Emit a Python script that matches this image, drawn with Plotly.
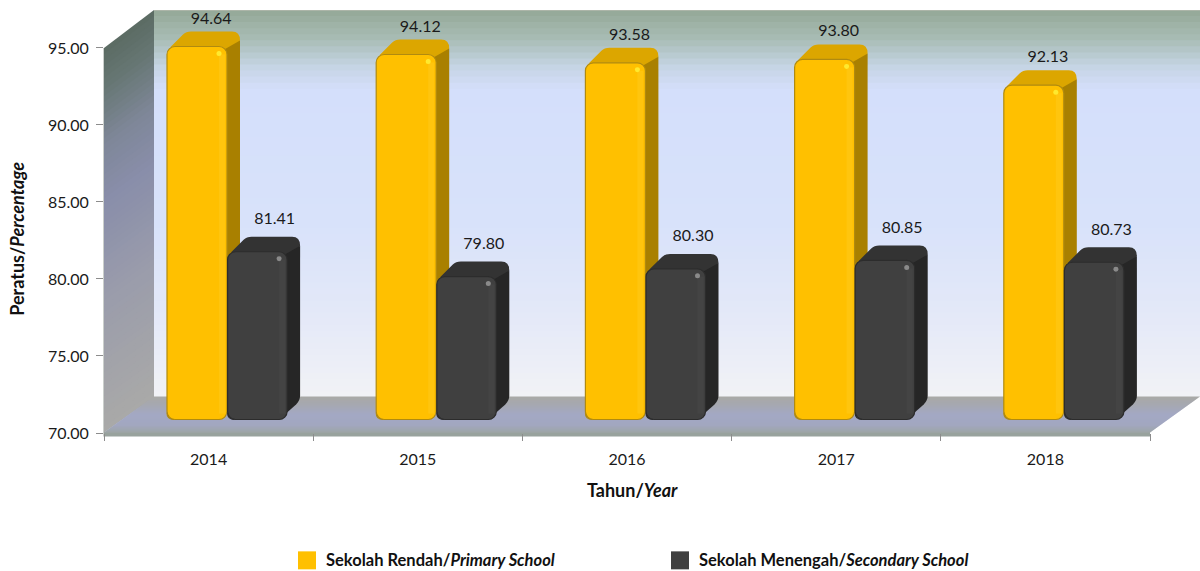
import plotly.graph_objects as go

years = ["2014", "2015", "2016", "2017", "2018"]
primary = [94.64, 94.12, 93.58, 93.80, 92.13]
secondary = [81.41, 79.80, 80.30, 80.85, 80.73]
y_ticks = [70, 75, 80, 85, 90, 95]
primary_name = "Sekolah Rendah/<i>Primary School</i>"
secondary_name = "Sekolah Menengah/<i>Secondary School</i>"

W, H = 1200, 571
L_PX, R_PX = 104, 1200
T_PX, B_PX = 10, 433.5
CAT_PX = 209.2
UNIT_PX = 15.42
FONT = "Lato, Carlito, sans-serif"

x_range = [-0.5, -0.5 + (R_PX - L_PX) / CAT_PX]
y_range = [70, 70 + (B_PX - T_PX) / UNIT_PX]

def dx(px):
    return -0.5 + (px - L_PX) / CAT_PX

def dy(py):
    return 70 + (B_PX - py) / UNIT_PX

def py_of(v):
    return B_PX - (v - 70) * UNIT_PX

def hex2(c):
    c = c.lstrip("#")
    return [int(c[i:i + 2], 16) for i in (0, 2, 4)]

def ramp(stops, t):
    for (a, ca), (b, cb) in zip(stops, stops[1:]):
        if t <= b:
            f = (t - a) / (b - a) if b > a else 0
            x, y = hex2(ca), hex2(cb)
            return "rgb(%d,%d,%d)" % tuple(round(x[i] + (y[i] - x[i]) * f) for i in range(3))
    return stops[-1][1]

def path(cmds):
    out = []
    for c in cmds:
        op, pts = c[0], c[1:]
        out.append(op + " ".join(f"{dx(p[0]):.5f},{dy(p[1]):.5f}" for p in pts))
    return " ".join(out)

shapes = []

def add_path(cmds, fill=None, line=None, lw=0, layer="below", close=True):
    d = path(cmds) + (" Z" if close else "")
    shapes.append(dict(type="path", xref="x", yref="y", path=d, layer=layer,
                       fillcolor=fill if fill else "rgba(0,0,0,0)",
                       line=dict(color=line if line else "rgba(0,0,0,0)", width=lw)))

def paper_rect(x0, y0, x1, y1, col, layer="below"):
    shapes.append(dict(type="rect", xref="paper", yref="paper", layer=layer,
                       x0=(x0 - L_PX) / (R_PX - L_PX), x1=(x1 - L_PX) / (R_PX - L_PX),
                       y0=(B_PX - y1) / (B_PX - T_PX), y1=(B_PX - y0) / (B_PX - T_PX),
                       fillcolor=col, line=dict(width=0)))

# back wall
WX0, WX1, WY0, WY1 = 154, 1200, 10, 398
wall_stops = [(0, "#96aa9a"), (0.07, "#a9bdb6"), (0.14, "#c5d4e4"), (0.2, "#d4dffb"),
              (0.55, "#d8e2fa"), (0.8, "#e4e9f8"), (1, "#f1f2f6")]
N = 64
for i in range(N):
    a = WY0 + (WY1 - WY0) * i / N
    b = WY0 + (WY1 - WY0) * (i + 1.5) / N
    b = min(b, WY1)
    add_path([("M", (WX0, a)), ("L", (WX1, a)), ("L", (WX1, b)), ("L", (WX0, b))],
             fill=ramp(wall_stops, i / (N - 1)))
add_path([("M", (WX0, 10)), ("L", (WX1, 10))], line="#b3b8ac", lw=1.5, close=False)

# left wall
left_stops = [(0, "#5c6c64"), (0.1, "#677774"), (0.25, "#7f8799"), (0.4, "#898eaa"),
              (0.65, "#9a9cab"), (1, "#a9a9a8")]
for i in range(N):
    s, e = i / N, min((i + 1.5) / N, 1)
    add_path([("M", (104, 48 + 385 * s)), ("L", (154, 10 + 388 * s)),
              ("L", (154, 10 + 388 * e)), ("L", (104, 48 + 385 * e))],
             fill=ramp(left_stops, i / (N - 1)))

# floor
floor_stops = [(0, "#a9a9a7"), (0.2, "#a6a8af"), (0.5, "#a3a8c4"), (0.8, "#a2a7c0"), (1, "#9da5a8")]
FN = 36
FLOOR_T, FLOOR_B = 397, 433
for i in range(FN):
    s, e = i / FN, min((i + 1.8) / FN, 1)
    ya, yb = FLOOR_T + (FLOOR_B - FLOOR_T) * s, FLOOR_T + (FLOOR_B - FLOOR_T) * e
    add_path([("M", (154 - 50 * s, ya)), ("L", (1200 - 50 * s, ya)),
              ("L", (1200 - 50 * e, yb)), ("L", (154 - 50 * e, yb))],
             fill=ramp(floor_stops, i / (FN - 1)))
paper_rect(104, 432.5, 1150, 437, "#98a29d")
paper_rect(103.5, 48, 104.7, 437, "#98a09a")

# bar geometry in pixels relative to each category
PRIM_OFF = (-41.6, 18.4)
SEC_OFF = (19.0, 78.5)
BASE_PX = 420
LIFT_PRIM = 7.0
LIFT_SEC = 5.5

def depth(center, off, v, lift, top_col, side_col):
    Lx, Rx = center + off[0], center + off[1]
    T = py_of(v) - lift
    add_path([("M", (Lx + 3, T + 1)), ("L", (Lx + 16, T - 12)), ("Q", (Lx + 19, T - 15), (Lx + 24, T - 15)),
              ("L", (Rx + 5, T - 15)),
              ("Q", (Rx + 13, T - 15), (Rx + 13, T - 6)), ("L", (Rx, T + 9)), ("L", (Rx - 6, T + 1))],
             fill=top_col)
    add_path([("M", (Rx + 13, T - 6)), ("L", (Rx + 13, BASE_PX - 24)),
              ("Q", (Rx + 13, BASE_PX - 19), (Rx + 9, BASE_PX - 15)),
              ("L", (Rx - 8, BASE_PX)), ("L", (Rx - 8, T + 6))], fill=side_col)

def finish(center, off, v, lift, dot, rim, bevel):
    Lx, Rx = center + off[0], center + off[1]
    T = py_of(v) - lift
    # soft bevel along the right part of the face and the highlight spot
    add_path([("M", (Rx - 8, T + 8)), ("L", (Rx - 2, T + 8)), ("L", (Rx - 2, BASE_PX - 6)), ("L", (Rx - 8, BASE_PX - 6))],
             fill=bevel, layer="above")
    cx, cy = Rx - 8, T + 7
    shapes.append(dict(type="circle", xref="x", yref="y", layer="above", x0=dx(cx - 2.5), x1=dx(cx + 2.5),
                       y0=dy(cy + 2.5), y1=dy(cy - 2.5), fillcolor=dot, line=dict(width=0)))
    # rounded lower corners
    r = 7
    floor_col = "#a3a8c2"
    add_path([("M", (Lx - 1, BASE_PX + 1)), ("L", (Lx + r, BASE_PX + 1)), ("Q", (Lx - 1, BASE_PX + 1), (Lx - 1, BASE_PX - r))],
             fill=floor_col, layer="above")
    add_path([("M", (Lx + r, BASE_PX)), ("Q", (Lx, BASE_PX), (Lx, BASE_PX - r))], line=rim, lw=1.2, layer="above", close=False)

for i in range(len(years)):
    c = 208.6 + CAT_PX * i
    depth(c, PRIM_OFF, primary[i], LIFT_PRIM, "#dca600", "#a98000")
for i in range(len(years)):
    c = 208.6 + CAT_PX * i
    depth(c, SEC_OFF, secondary[i], LIFT_SEC, "#333333", "#262626")
for i in range(len(years)):
    c = 208.6 + CAT_PX * i
    finish(c, PRIM_OFF, primary[i], LIFT_PRIM, "#ffe92e", "#b08a10", "rgba(255,205,40,0.35)")
    finish(c, SEC_OFF, secondary[i], LIFT_SEC, "#8a8a8a", "#2c2c2c", "rgba(80,80,80,0.3)")

base_val = dy(BASE_PX)

def bar_trace(name, vals, off, lift, color, rim):
    return go.Bar(name=name, x=list(range(len(years))),
                  y=[v + lift / UNIT_PX - base_val for v in vals], base=base_val,
                  offset=off[0] / CAT_PX, width=(off[1] - off[0]) / CAT_PX,
                  marker=dict(color=color, line=dict(color=rim, width=1.2), cornerradius=8),
                  showlegend=False, hoverinfo="skip")

fig = go.Figure()
fig.add_trace(bar_trace(primary_name, primary, PRIM_OFF, LIFT_PRIM, "#ffc000", "#b08a10"))
fig.add_trace(bar_trace(secondary_name, secondary, SEC_OFF, LIFT_SEC, "#404040", "#2c2c2c"))

for vals, off_px, rise in ((primary, 2.5, 34.0), (secondary, 66.0, 37.0)):
    fig.add_trace(go.Scatter(
        x=[i + off_px / CAT_PX for i in range(len(years))],
        y=[v + rise / UNIT_PX for v in vals],
        text=[f"{v:.2f}" for v in vals], mode="text", textposition="middle center",
        textfont=dict(family=FONT, size=16, color="#1a1a1a"), showlegend=False, hoverinfo="skip",
        cliponaxis=False))

# legend swatches
paper_rect(298, 552, 316, 570, "#ffc000", "above")
paper_rect(671, 552, 689, 570, "#404040", "above")

def note(text, xp, yp, size=16.5, **kw):
    return dict(text=text, xref="paper", yref="paper", x=(xp - L_PX) / (R_PX - L_PX),
                y=(B_PX - yp) / (B_PX - T_PX), showarrow=False,
                font=dict(family=FONT, size=size, color="#111111"), **kw)

annotations = [
    note("<b>" + primary_name + "</b>", 324, 561, xanchor="left", yanchor="middle"),
    note("<b>" + secondary_name + "</b>", 697, 561, xanchor="left", yanchor="middle"),
    note("<b>Tahun/<i>Year</i></b>", 632, 491, size=18, xanchor="center", yanchor="middle"),
    note("<b>Peratus/<i>Percentage</i></b>", 17, 239, size=18, textangle=-90, xanchor="center", yanchor="middle"),
]

fig.update_layout(
    width=W, height=H, autosize=False,
    margin=dict(l=L_PX, r=W - R_PX, t=T_PX, b=H - B_PX, pad=0),
    paper_bgcolor="white", plot_bgcolor="rgba(0,0,0,0)", showlegend=False,
    barmode="overlay", shapes=shapes, annotations=annotations,
    xaxis=dict(range=x_range, tickmode="array", tickvals=list(range(len(years))), ticktext=years,
               showgrid=False, zeroline=False, showline=False, ticks="", ticklen=0,
               ticklabelstandoff=15, tickfont=dict(family=FONT, size=16, color="#1a1a1a"),
               automargin=False,
               minor=dict(ticks="outside", tickmode="array", tickvals=[i - 0.5 for i in range(len(years) + 1)],
                          ticklen=7, tickcolor="#8c8c8c", tickwidth=1, showgrid=False)),
    yaxis=dict(range=y_range, tickmode="array", tickvals=y_ticks, ticktext=[f"{v:.2f}" for v in y_ticks],
               showgrid=False, zeroline=False, showline=False, ticks="outside", ticklen=7,
               ticklabelstandoff=4, tickcolor="#8c8c8c", tickwidth=1, automargin=False,
               tickfont=dict(family=FONT, size=16, color="#1a1a1a")),
)
fig.write_html("out.html", config={"displayModeBar": False},
               post_script="document.body.style.margin='0';document.documentElement.style.overflow='hidden';")
